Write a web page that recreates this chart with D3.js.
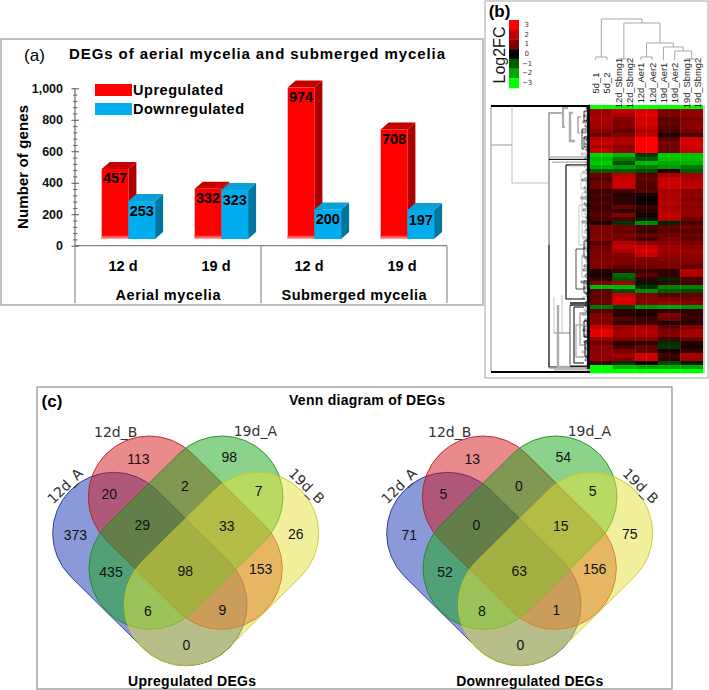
<!DOCTYPE html>
<html><head><meta charset="utf-8">
<script src="https://cdn.jsdelivr.net/npm/d3@7"></script>
<style>
html,body{margin:0;padding:0;background:#fff}
svg{display:block}
text{font-family:"Liberation Sans",Arial,sans-serif}
</style></head><body>
<svg id="c" width="709" height="690"></svg>
<script>
/* ---------- panel (a) data ---------- */
const barCats = ["12 d","19 d","12 d ","19 d "];
const upregulated = [457,332,974,708];
const downregulated = [253,323,200,197];
const barGroups = ["Aerial mycelia","Submerged mycelia"];
const yTicksMajor = [0,200,400,600,800,1000];
const yTicksMinor = [40,80,120,160,240,280,320,360,440,480,520,560,640,680,720,760,840,880,920,960];

/* ---------- panel (b) data ---------- */
const heatColumns = ["5d_1","5d_2","12d_Sbmg1","12d_Sbmg2","12d_Aer1","12d_Aer2","19d_Aer1","19d_Aer2","19d_Sbmg1","19d_Sbmg2"];
const legendLevels = [3,2,1,0,-1,-2,-3];
/* one row per band of the heat map, one value per replicate pair */
const heatRows = [
[-3,-3,-3,-3,-3],[1.5,2,2.2,1,1.3],[1.5,1.7,2.5,1,1.3],[1.7,1.2,2.2,.7,1],[1.5,1,2.3,.8,1.2],
[1.5,1,2.1,.7,1.2],[1.2,.8,1.8,.6,1],[.9,1.1,2,.3,.6],[1.8,1.7,3,.7,2.2],[2,1.7,3,1,2.3],
[1.7,1.2,3,.9,2.2],[2,1.4,3,.9,2],[-2.5,-2.2,-.6,-2.4,-2.3],[-2.2,-1.5,-1,-2.3,-2.3],[-2.4,-.9,-2.2,-2,-2.1],
[-2,-1.8,-1.5,-1.8,-1.4],[-1,-1,-.8,.3,-1],[.9,1.8,.7,1.6,1.5],[.7,2,.8,2,1.7],[.9,2.2,.7,2.2,1.8],
[.9,2,.6,2,1.9],[.5,.6,.7,1.6,1.2],[.6,.3,.2,1.7,1.3],[.5,.4,.1,1.6,1.1],[.6,.3,.1,1.8,1.3],
[.5,.8,.5,1.6,1.2],[.6,.4,.3,1.7,1.3],[.7,1.1,.2,2,1.3],[.6,.6,-.3,1.8,.9],[.3,-.6,-1.6,-.4,.6],
[1,.9,.6,.8,.9],[1,.8,.5,.7,.7],[1,1,.8,.9,.9],[1.1,.9,.6,1,.8],[.7,1.8,1.3,1.2,1],
[.9,2,2,1.5,1.2],[1,1.6,2.3,1.5,1.4],[1,1.2,2,1.3,1.3],[1,1,1.1,1.2,1.2],[1.1,1,1,1,1],
[1,.8,.9,1,.8],[.3,.5,.5,.4,1.8],[.2,-1.2,.7,.4,1.7],[.4,-.9,.4,-.4,.6],[1,1.5,-.2,.5,.6],
[-2.2,-2.2,-.5,-1.5,-1.5],[.7,-.8,-1.6,-1,-.8],[.8,2,1,.7,.8],[.8,2.4,1.2,1,.9],[.9,2.3,1.2,1.4,1.2],
[-1.4,-.8,-1.8,-2,-1.8],[.7,.4,.3,.4,.4],[1,.3,.2,1,.4],[1.1,.7,.5,.9,.5],[1,.4,.5,.2,.3],
[2,1.3,1.6,.8,1.1],[2.6,1.5,1.8,1,1.5],[2.5,1.6,1.7,1.1,1.6],[1.3,1.1,1.2,.6,.9],[.9,.3,.4,-.5,.3],
[1.2,.6,.8,-.6,.2],[1.2,1,.8,.2,.5],[1.3,1.5,2.2,.5,1.6],[1.3,1.2,2.2,.4,1.5],[.5,-.5,0,-.8,-.3],
[-3,-2.2,-2,-2,-2],[-3,-3,-3,-3,-3]];
/* column dendrogram: [node a, node b, height]; nodes 0-9 are leaves, 10+ earlier merges */
const colMerges = [[0,1,3],[2,3,1],[4,5,3],[8,9,1],[7,13,9],[6,14,13],[12,15,17],[11,16,37],[10,17,41]];
/* row dendrogram: [distance, rowA, rowB, stubA, stubB, tone(0 black,1 grey), width] */
const rowTree = [
[99,.25,66.75,99,99,1,1.3],[99,.25,.25,0,0,0,2.2],[99,66.75,66.75,0,0,0,2.2],
[99,10,10,78,78,1,.8],[78,.3,19.5,78,41,1,.8],
[41,2,35,27,41,1,2],[41,35,65.5,41,2,0,1.2],[27,.8,5.5,22,25,1,2.2],
[20,2,9,17,15,1,2.4],[12,3,7,9,10,1,1.6],[8,6,11,4,6,0,.7],
[6,1.5,4,3,3,0,.7],[6,8,10.5,2,3,0,.7],
[41,13,13,0,0,1,.9],[41,13.6,13.6,0,0,0,.8],[38,14.3,14.3,0,0,1,.8],[24,15,15,0,0,0,.8],
[24,15,48.5,24,5,0,1.1],[21,15.2,15.2,0,0,1,.7],
[9,17,21,4,3,1,.7],[8,22,28,4,3,1,.7],[11,25,35,6,4,1,.7],[8,29,33,3,2,1,.7],
[6,34,38,2,2,0,.7],[14,36,46,6,6,0,.7],[8,38,43,3,2,1,.9],[6,44,47,2,2,0,.7],
[36,48,57,36,28,1,.7],[28,47.5,57,28,20,1,.7],[36,57,57,20,20,1,.7],
[20,50,65,20,20,0,.7],[32,50,65.5,32,2,1,2.4],[20,49.5,49.5,3,3,0,.9],[20,50,50,3,3,0,.8],
[16,50.5,64.5,6,6,0,1],[10,52,60,3,3,1,1.5],[6,54,58,2,2,0,1],[5,59,63,2,2,0,.9],[14,55,63,5,5,1,1.3],
[41,65.8,65.8,0,0,1,.9],[36,66.2,66.2,0,0,1,1.2],[20,65.3,65.3,0,0,0,.8],[1.5,.5,66,1.5,1.5,0,2.8]];
/* leaf twig depth for each half row of the heat map */
const rowLeafDepth = [2,4,3,5,2,6,3,4,7,2,5,3,4,8,2,3,6,4,2,5,3,7,4,2,9,3,5,2,4,3,
6,2,4,7,3,2,5,8,3,4,2,6,3,5,2,4,9,3,2,6,4,3,7,2,5,3,4,2,8,3,5,2,4,6,3,2,7,4,3,5,
2,6,4,3,2,8,5,3,4,2,6,3,7,2,4,5,3,2,9,4,3,6,2,5,4,3,7,2,4,3,5,2,6,4,8,3,2,5,4,3,
6,2,7,3,4,5,2,3,6,4,2,5,3,8,2,4,3,5,2,3,2,4,2,3];

/* ---------- panel (c) data ---------- */
const vennSets = ["12d_A","12d_B","19d_A","19d_B"];
const vennRegions = ["A","B","C","D","AB","BC","CD","ABC","BCD","AC","ABCD","BD","ACD","ABD","AD"];
const vennUp   = [373,113,98,26,20,2,7,29,33,435,98,153,6,9,0];
const vennDown = [71,13,54,75,5,0,5,0,15,52,63,156,8,1,0];
const vennTitles = ["Upregulated DEGs","Downregulated DEGs"];

/* ---------- drawing ---------- */
const svg = d3.select("#c");
const defs = svg.append("defs");
defs.append("filter").attr("id","soft").attr("x","-2%").attr("y","-2%").attr("width","104%").attr("height","104%")
  .append("feGaussianBlur").attr("stdDeviation",.6);
const fade = defs.append("linearGradient").attr("id","fade").attr("x1",0).attr("x2",0).attr("y1",0).attr("y2",1);
fade.append("stop").attr("offset",0).attr("stop-color","#ff0000");
fade.append("stop").attr("offset",1).attr("stop-color","#ffb0b0");

function frame(x,y,w,h,c,sw){svg.append("rect").attr("x",x).attr("y",y).attr("width",w).attr("height",h)
  .attr("fill","none").attr("stroke",c).attr("stroke-width",sw);}
function label(g,s,x,y,size,o={}){const t=g.append("text").text(s).attr("x",x).attr("y",y)
  .attr("font-size",size).attr("dominant-baseline","central").attr("text-anchor",o.anchor||"middle")
  .attr("font-weight",o.weight||"normal").attr("fill",o.fill||"#000");
  if(o.family)t.style("font-family",o.family);
  if(o.len)t.attr("textLength",o.len).attr("lengthAdjust","spacing");
  if(o.rot!=null)t.attr("transform",`rotate(${o.rot} ${x} ${y})`);return t;}

frame(1,39,482,266,"#a0a0a0",1.3);
frame(485,1,223,377,"#b4b4b4",1.2);
frame(37,387,635,302,"#8c8c8c",1.2);

/* ===== (a) ===== */
const ga = svg.append("g");
label(ga,"(a)",34.5,55,17);
label(ga,"DEGs of aerial mycelia and submerged mycelia",257,53,15,{weight:"bold",len:376});
const y = d3.scaleLinear().domain([0,1000]).range([245.7,88.3]);
const x0 = d3.scaleBand().domain(barCats).range([75,447]);
const x1 = d3.scaleBand().domain(["up","down"]).range([0,53.4]);
const offX = x0.bandwidth()/2-19.8, dx=8, dy=7, lift=4.8, base=y(0)-6.7;
function bar3d(g,v,left,w,cf,cs,ct){
  const t=y(v)-lift, r=left+w;
  g.append("path").attr("d",`M${r},${t}L${r+dx},${t-dy}L${r+dx},${base-dy}L${r},${base}Z`).attr("fill",cs);
  g.append("path").attr("d",`M${left},${t}L${left+dx},${t-dy}L${r+dx},${t-dy}L${r},${t}Z`).attr("fill",ct);
  g.append("rect").attr("x",left).attr("y",t).attr("width",w).attr("height",base-t).attr("fill",cf);
}
barCats.forEach((c,i)=>{
  const g=ga.append("g"), l=x0(c)+offX, w=x1.bandwidth();
  bar3d(g,upregulated[i],l+x1("up"),w,"#ff0000","#ad0000","#c40000");
  g.append("rect").attr("x",l).attr("y",base-4).attr("width",w).attr("height",4).attr("fill","url(#fade)");
  bar3d(g,downregulated[i],l+x1("down"),w,"#00aeef","#00769f","#0a9fd6");
  label(g,upregulated[i],l+w/2,y(upregulated[i])+4.5,14.5,{weight:"bold"});
  label(g,downregulated[i],l+w*1.5,y(downregulated[i])+5,14.5,{weight:"bold"});
  label(ga,c.trim(),x0(c)+x0.bandwidth()/2+1.5,266,14.5,{weight:"bold"});
});
/* y axis */
const axMaj=ga.append("g").attr("transform","translate(75,0)")
  .call(d3.axisLeft(y).tickValues(yTicksMajor).tickSize(3.5).tickFormat(d3.format(",")));
axMaj.select(".domain").attr("stroke","#555").attr("d",`M0,${y(0)}V${y(1000)}`);
axMaj.selectAll(".tick line").attr("x1",-3.5).attr("x2",4).attr("stroke","#555");
axMaj.selectAll(".tick text").attr("x",-12).attr("font-size",12.5).attr("font-weight","bold").attr("fill","#111")
  .style("font-family","'Liberation Sans'");
const axMin=ga.append("g").attr("transform","translate(75,0)")
  .call(d3.axisLeft(y).tickValues(yTicksMinor).tickSize(2).tickFormat(""));
axMin.select(".domain").remove();
axMin.selectAll(".tick line").attr("x1",-2).attr("x2",2.5).attr("stroke","#666");
label(ga,"Number of genes",22,167,15,{weight:"bold",rot:-90,len:124});
/* category frame */
const xEdge=[x0.range()[0],x0(barCats[2]),x0.range()[1]];
ga.append("path").attr("d",`M${xEdge[0]},${y(0)}H${xEdge[2]}`).attr("stroke","#666").attr("fill","none");
xEdge.forEach(v=>ga.append("line").attr("x1",v).attr("x2",v).attr("y1",y(0)).attr("y2",303).attr("stroke","#777"));
barGroups.forEach((s,i)=>label(ga,s,(xEdge[i]+xEdge[i+1])/2,295,14.5,{weight:"bold",len:i?145:105}));
/* legend */
[["Upregulated","#ff0000",84,90],["Downregulated","#00aeef",103,111]].forEach(d=>{
  ga.append("rect").attr("x",95).attr("y",d[2]).attr("width",37).attr("height",12).attr("fill",d[1]);
  label(ga,d[0],133,d[2]+6,14.5,{weight:"bold",anchor:"start",len:d[3]});
});

/* ===== (b) ===== */
const gb = svg.append("g");
label(gb,"(b)",499.5,11.5,17,{weight:"bold"});
label(gb,"Log2FC",499,55,16,{rot:-90,fill:"#111"});
const heatColor = d3.scaleLinear().domain([-3,-2,-1,0,1,2,3])
  .range(["#00ff00","#00a800","#005c00","#000000","#7c0000","#c40000","#ff0000"]);
const legY = d3.scaleBand().domain(legendLevels).range([20,88]);
legendLevels.forEach(v=>{
  gb.append("rect").attr("x",509).attr("y",legY(v)).attr("width",10).attr("height",legY.bandwidth()+.3).attr("fill",heatColor(v));
  gb.append("text").text(v<0?"\u2212"+(-v):v).attr("x",v<0?522:524.5).attr("y",legY(v)+legY.bandwidth()/2)
    .attr("font-size",7).attr("dominant-baseline","central").attr("fill","#333").style("font-family","'DejaVu Sans'");
});
const colX = d3.scaleBand().domain(heatColumns).range([590,703]);
const rowY = d3.scaleLinear().domain([0,heatRows.length]).range([105,373]);
const heat = gb.append("g").attr("filter","url(#soft)");
heatRows.forEach((row,i)=>heatColumns.forEach((c,j)=>{
  heat.append("rect").attr("x",colX(c)).attr("y",rowY(i)).attr("width",colX.bandwidth()+.3)
    .attr("height",rowY(1)-rowY(0)+.3).attr("fill",heatColor(row[j>>1]));
}));
gb.append("rect").attr("x",colX.range()[1]).attr("y",rowY(0)).attr("width",2).attr("height",rowY(heatRows.length)-rowY(0)).attr("fill","#c8c8c8");
heatColumns.forEach(c=>{
  const cx=colX(c)+colX.bandwidth()/2;
  label(gb,c,cx,83,9.4,{rot:-90,fill:"#222"});
});
/* column dendrogram */
const hY = d3.scaleLinear().domain([0,41]).range([60,19]);
const nodes = heatColumns.map(c=>({x:colX(c)+colX.bandwidth()/2,h:-1}));
const cg = gb.append("g").attr("fill","none").attr("stroke","#a8a8a8").attr("stroke-width",1);
colMerges.forEach(m=>{
  const a=nodes[m[0]],b=nodes[m[1]];
  cg.append("path").attr("d",`M${a.x},${hY(Math.max(a.h,0))}V${hY(m[2])}H${b.x}V${hY(Math.max(b.h,0))}`);
  nodes.push({x:(a.x+b.x)/2,h:m[2]});
});
/* row dendrogram */
const dX = d3.scaleLinear().domain([0,99]).range([590,491]);
const rg = gb.append("g").attr("fill","none");
rowLeafDepth.forEach((d,i)=>{
  const r0=i/2, r1=i/2+.45;
  rg.append("path").attr("d",`M${dX(0)},${rowY(r0)}H${dX(d)}V${rowY(r1)}H${dX(0)}`)
    .attr("stroke",i%3==0?"#888":"#111").attr("stroke-width",.6);
});
rowTree.forEach(t=>{
  rg.append("path").attr("d",`M${dX(t[3])},${rowY(t[1])}H${dX(t[0])}V${rowY(t[2])}H${dX(t[4])}`)
    .attr("stroke",t[5]?"#adadad":"#000").attr("stroke-width",t[6]);
});

/* ===== (c) ===== */
const gc = svg.append("g");
label(gc,"(c)",52,401,17,{weight:"bold"});
label(gc,"Venn diagram of DEGs",367,400,14,{weight:"bold",len:156});
/* venn space is the reference zoom grid: 3 units per pixel */
const vennShapes = [
 {cap:[[251,460],[468,674]],fill:"#1535b1",line:"#1c2f94"},
 {cap:[[358,351],[574,565]],fill:"#d3151c",line:"#b01a20"},
 {cap:[[576,351],[360,565]],fill:"#17a517",line:"#178a17"},
 {cap:[[683,460],[466,674]],fill:"#e5e139",line:"#c9c626"}];
const vennR = 183;
const vennLabelPos = [[136,465],[325,238],[598,232],[797,463],[238,342],[465,318],[686,333],[337,436],[590,438],[243,577],[466,572],[692,568],[354,693],[577,690],[469,794]];
const setLabelPos = [[105,318,-45],[257,155,0],[676,152,0],[830,318,45]];
function venn(values,title,ox,tx,tlen){
  const sx=d3.scaleLinear().domain([0,3]).range([ox,ox+1]);
  const sy=d3.scaleLinear().domain([0,3]).range([380,381]);
  const r=vennR/3, g=gc.append("g");
  vennShapes.forEach(s=>{
    const [a,b]=s.cap, ax=sx(a[0]),ay=sy(a[1]),bx=sx(b[0]),by=sy(b[1]);
    const ang=Math.atan2(by-ay,bx-ax), n=Math.PI/2;
    const p=d3.path();
    p.moveTo(ax+r*Math.cos(ang-n),ay+r*Math.sin(ang-n));
    p.lineTo(bx+r*Math.cos(ang-n),by+r*Math.sin(ang-n));
    p.arc(bx,by,r,ang-n,ang+n);
    p.lineTo(ax+r*Math.cos(ang+n),ay+r*Math.sin(ang+n));
    p.arc(ax,ay,r,ang+n,ang-n);
    p.closePath();
    g.append("path").attr("d",p.toString()).attr("fill",s.fill).attr("fill-opacity",.5)
      .attr("stroke",s.line).attr("stroke-opacity",.85).attr("stroke-width",1);
  });
  values.forEach((v,i)=>label(g,v,sx(vennLabelPos[i][0]),sy(vennLabelPos[i][1]),14,{fill:"#111"}));
  vennSets.forEach((s,i)=>{
    const q=setLabelPos[i];
    label(g,s,sx(q[0]),sy(q[1]),14,{rot:q[2],fill:"#333",family:"'DejaVu Sans'"});
  });
  label(g,title,tx,681,14,{weight:"bold",len:tlen});
}
venn(vennUp,vennTitles[0],30,192,128);
venn(vennDown,vennTitles[1],364,529.7,147);
</script>
</body></html>
